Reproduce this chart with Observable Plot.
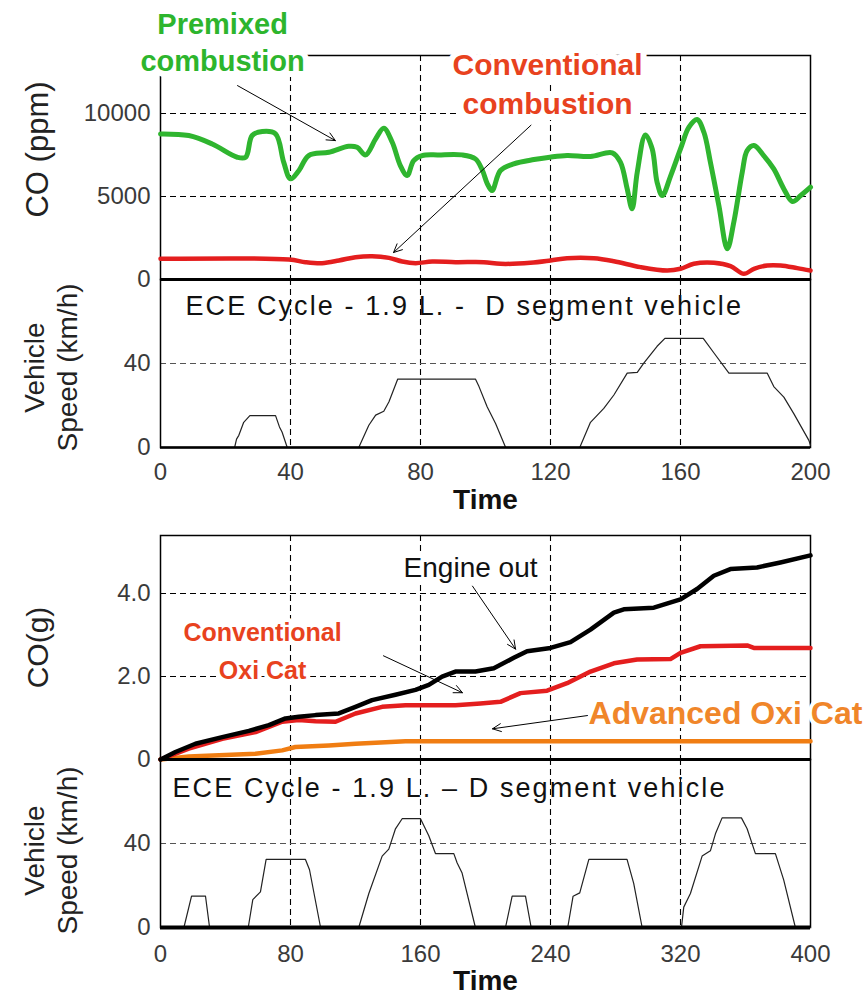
<!DOCTYPE html>
<html><head><meta charset="utf-8">
<script src="https://cdn.jsdelivr.net/npm/d3@7"></script>
<script src="https://cdn.jsdelivr.net/npm/@observablehq/plot@0.6"></script>
<style>
body{margin:0;background:#fff;}
#wrap{position:relative;width:865px;height:996px;overflow:hidden;}
#wrap > div{position:absolute;left:0;}
</style></head><body>
<div id="wrap"><div id="a" style="top:0"></div><div id="b" style="top:279px"></div><div id="c" style="top:480px"></div><div id="d" style="top:759px"></div></div>
<script>
// ---------- DATA ----------
// Top chart: CO (ppm) over ECE cycle (time 0-200)
const premixT  = [0,8.7,15.9,23.6,26.2,28.2,31.3,35.4,37.9,40,42.6,45.6,51.8,57.9,60.5,63.1,66.2,68.7,71.3,73.8,75.9,77.9,80.5,85.6,92.8,96.9,99,100.5,102,104.6,108.7,114.9,119.8,125.1,132.3,139,141.5,143.6,145.1,146.7,149.2,151.3,152.8,154.4,157,160,162.6,165.1,167.2,169.2,171.8,174.4,176.4,179,180.5,182.6,185.6,188.7,191.8,194.4,197,200];
const premixCO = [8775,8675,8170,7370,7370,8675,8915,8775,7070,6065,6570,7470,7670,8030,7970,7510,8475,9115,8270,6870,6265,7170,7470,7510,7510,7270,6600,5800,5360,6565,6970,7230,7370,7470,7410,7630,7070,5460,4260,6470,8715,7870,5860,5060,6265,7870,9180,9640,8875,7070,4460,1850,3455,6465,7770,8070,7470,6665,5460,4700,5060,5560];
const convT    = [0,39.5,44.6,49.7,54.9,60,65.1,70.3,74.4,78.5,83.6,90.8,99.5,104.6,113.8,120,125.1,133.3,139.5,147.7,155.9,160,164.1,170.3,175.4,179.5,182.6,186.7,190.8,195.9,200];
const convCO   = [1245,1205,1045,985,1145,1345,1405,1305,1085,985,1085,1045,1045,945,1005,1145,1285,1285,1105,745,540,645,945,1005,805,340,645,845,845,685,540];
const topSpeedT = [0,22.8,23.4,24.1,25.6,27.5,35.4,36.6,37.4,39,61,64.1,66.2,68.7,70.3,73,96.9,98,100.5,103.1,106.2,129,132.3,136.4,139.5,143.6,146.7,148.7,152.8,155.2,167,170.3,174.9,186.7,188.7,191.8,194.9,199.5,200];
const topSpeedV = [0,0,4,5.8,12,15.2,15.2,9.8,7.4,0,0,10.6,15.4,17.3,21.8,32.6,32.6,29,19.4,11.4,0,0,12,18.6,25,35.4,35.8,40.2,48.2,52,52,45,35.4,35.4,29,24,16,3.4,1];
const topXTicks = [0,40,80,120,160,200];
const topCOTicks = [0,5000,10000];
const speedTicks = [0,40];

// Bottom chart: cumulative CO (g) over two ECE cycles (time 0-400)
const engT = [0,1,9.2,21.5,38,54.4,66.7,76.9,85.1,95.4,109.7,120,130.2,144.6,156.9,165.1,173.3,181.5,193.8,205.1,217.4,225.6,240,252.3,264.6,279,285.1,303.6,320,330.2,340.5,350.7,367.1,381.5,400];
const engCO = [0,0.02,0.18,0.38,0.54,0.69,0.83,0.99,1.03,1.07,1.11,1.27,1.43,1.56,1.68,1.80,2.0,2.12,2.12,2.20,2.45,2.61,2.69,2.83,3.13,3.54,3.62,3.66,3.86,4.11,4.43,4.59,4.63,4.75,4.92];
const oxiT = [0,17.4,38,58.5,74.9,85.1,95.4,107.7,120,136.4,150.8,181.5,196.9,209.2,221.5,237.9,250.2,264.6,279,293.3,313.8,320,332.3,361,365.1,400];
const oxiCO = [0,0.26,0.50,0.66,0.91,0.95,0.92,0.91,1.11,1.27,1.31,1.31,1.35,1.39,1.60,1.66,1.84,2.12,2.32,2.41,2.42,2.57,2.73,2.75,2.69,2.69];
const advT = [0,17.4,58.5,74.9,83,103.6,120,150.8,400];
const advCO = [0,0.07,0.14,0.22,0.30,0.34,0.38,0.44,0.44];
const botSpeedT = [0,14.4,19.1,27.7,30.2,54,56.8,61.5,65,89.2,91.7,98.5,122,128.2,136.4,140.5,144.6,148.7,160,165.1,169.2,180.5,182.5,185.6,193.8,212.3,216.4,224.6,228.1,250.6,253.9,258,263.6,287.1,291.2,296.4,320.6,322,326.1,333.3,338.4,341.5,345.6,357.5,361,366.1,378.4,383.5,390.7,400];
const botSpeedV = [0,0,14.9,14.9,0,0,13.3,17,32.4,32.4,27.5,0,0,16.2,34,37.3,47,51.8,51.8,43.7,35.2,35.2,30.8,25.9,0,0,14.9,14.9,0,0,14.9,16.5,32.4,32.4,21,0,0,9.7,16.2,34,36.5,44.6,52.2,52.2,47,35.2,35.2,22.7,0,0];
const botXTicks = [0,80,160,240,320,400];
const botCOTicks = [0,2,4];

// Annotations
const topNotes = [
  {label:"Premixed\ncombustion", t:19.1, v:14400, color:"#2db52d", size:29},
  {label:"Conventional\ncombustion", t:119.1, v:11930, color:"#e8421e", size:30}
];
const topArrows = [
  {t1:23.7, v1:11686, t2:53.8, v2:8373},
  {t1:114, v1:9300, t2:71.7, v2:1626}
];
const botNotes = [
  {label:"Engine out", t:190.8, v:4.74, color:"#111", weight:"normal", size:28, anchor:"middle"},
  {label:"Conventional\nOxi Cat", t:62.8, v:2.70, color:"#e8421e", weight:"bold", size:25, anchor:"middle"},
  {label:"Advanced Oxi Cat", t:263.4, v:1.25, color:"#f0862a", weight:"bold", size:32, anchor:"start"}
];
const botArrows = [
  {t1:192, v1:4.18, t2:218.5, v2:2.66},
  {t1:137.2, v1:2.50, t2:185.8, v2:1.61},
  {t1:262.8, v1:1.06, t2:204.3, v2:0.74}
];

// ---------- BUILD ----------
const zip = (xs, ys) => xs.map((t, i) => ({t, v: ys[i]}));
const W = 865, ML = 160, MR = 55;
const FONT = '"Liberation Sans", Arial, sans-serif';
const style = {background: "transparent", overflow: "visible", fontFamily: FONT};
const dash = {stroke: "#000", strokeOpacity: 1, strokeDasharray: "6,4", strokeWidth: 1.1};
const tickStyle = {tickSize: 0, fontSize: 24, fill: "#3a3a3a", label: null};

function coPanel(xDomain, yDomain, xGrid, yGrid, yTicks, tickFormat, lines, notes, arrows, ylabel, ylabelSize, ylabelDy) {
  return Plot.plot({
    width: W, height: 279, marginTop: 55, marginBottom: 0, marginLeft: ML, marginRight: MR,
    style,
    x: {domain: xDomain, axis: null},
    y: {domain: yDomain, axis: null},
    marks: [
      Plot.gridX({ticks: xGrid, ...dash}),
      Plot.gridY({ticks: yGrid, ...dash}),
      Plot.frame({stroke: "#000", strokeWidth: 1.5}),
      ...lines.map(l => Plot.line(l.data, {x: "t", y: "v", stroke: l.color, strokeWidth: l.width, curve: l.curve || "linear"})),
      Plot.ruleY([0], {stroke: "#000", strokeWidth: 3}),
      Plot.arrow(arrows, {x1: "t1", y1: "v1", x2: "t2", y2: "v2", stroke: "#000", strokeWidth: 1, headLength: 14, headAngle: 50}),
      ...notes,
      Plot.axisY({ticks: yTicks, tickFormat, tickPadding: 10, anchor: "left", ...tickStyle}),
      Plot.text([ylabel], {text: d => d, frameAnchor: "left", textAnchor: "middle", lineAnchor: "middle", dx: -122, dy: ylabelDy, rotate: -90, fontSize: ylabelSize, fill: "#222"})
    ]
  });
}

function speedPanel(xDomain, xTicks, data, subtitle, tickPad, subDx, subDy, timeDy, labelDy, baseWidth) {
  return Plot.plot({
    width: W, height: 228, marginTop: 0, marginBottom: 60, marginLeft: ML, marginRight: MR,
    style,
    x: {domain: xDomain},
    y: {domain: [0, 80]},
    marks: [
      Plot.gridX({ticks: xTicks.slice(1, -1), ...dash}),
      Plot.gridY({ticks: [40], ...dash, stroke: "#555"}),
      Plot.frame({stroke: "#000", strokeWidth: 1.5}),
      Plot.line(data, {x: "t", y: "v", stroke: "#222", strokeWidth: 1.2}),
      Plot.ruleY([0], {stroke: "#000", strokeWidth: baseWidth}),
      Plot.axisX({ticks: xTicks, tickPadding: tickPad, anchor: "bottom", ...tickStyle}),
      Plot.axisY({ticks: speedTicks, tickPadding: 10, anchor: "left", ...tickStyle}),
      Plot.text([subtitle], {text: d => d, frameAnchor: "top-left", dx: subDx, dy: subDy, textAnchor: "start", lineAnchor: "middle", fontSize: 27, fill: "#111"}),
      Plot.text(["Time"], {text: d => d, frameAnchor: "bottom", textAnchor: "middle", lineAnchor: "middle", dy: timeDy, fontSize: 28, fontWeight: "bold", fill: "#111"}),
      Plot.text(["Vehicle\nSpeed (km/h)"], {text: d => d, frameAnchor: "left", textAnchor: "middle", lineAnchor: "middle", dx: -111, dy: labelDy, rotate: -90, fontSize: 28, lineHeight: 1.18, fill: "#222"})
    ]
  });
}

const topNoteMarks = topNotes.map(n => Plot.text([n], {x: "t", y: "v", text: "label", fill: n.color, fontSize: n.size, fontWeight: "bold", lineHeight: 1.3, stroke: "white", strokeWidth: 12}));
const botNoteMarks = botNotes.map(n => Plot.text([n], {x: "t", y: "v", text: "label", fill: n.color, fontSize: n.size, fontWeight: n.weight, textAnchor: n.anchor, lineHeight: 1.55, stroke: "white", strokeWidth: 8}));

document.getElementById("a").append(coPanel([0, 200], [0, 13500], topXTicks.slice(1, -1), [5000, 10000], topCOTicks, d => String(d),
  [{data: zip(convT, convCO), color: "#e41e1e", width: 4.5, curve: "catmull-rom"},
   {data: zip(premixT, premixCO), color: "#2fb52f", width: 5, curve: "catmull-rom"}],
  topNoteMarks, topArrows, "CO (ppm)", 31, -18));
document.getElementById("b").append(speedPanel([0, 200], topXTicks, zip(topSpeedT, topSpeedV), "ECE Cycle - 1.9 L. -  D segment vehicle", 15, 25, 27, 53, 4, 2.5));
document.getElementById("c").append(coPanel([0, 400], [0, 5.4], botXTicks.slice(1, -1), [2, 4], botCOTicks, d => d === 0 ? "0" : d.toFixed(1),
  [{data: zip(advT, advCO), color: "#f07d12", width: 4.5},
   {data: zip(oxiT, oxiCO), color: "#e41e1e", width: 4.5},
   {data: zip(engT, engCO), color: "#000", width: 4.5}],
  botNoteMarks, botArrows, "CO(g)", 30, 0));
document.getElementById("d").append(speedPanel([0, 400], botXTicks, zip(botSpeedT, botSpeedV), "ECE Cycle - 1.9 L. \u2013 D segment vehicle", 17, 12, 29, 54, 7, 4));

// widen the subtitle lettering to match the original's spread
d3.selectAll("#wrap text").filter(function () { return this.textContent.startsWith("ECE"); })
  .attr("letter-spacing", "2.1px").style("white-space", "pre");
</script>
</body></html>
